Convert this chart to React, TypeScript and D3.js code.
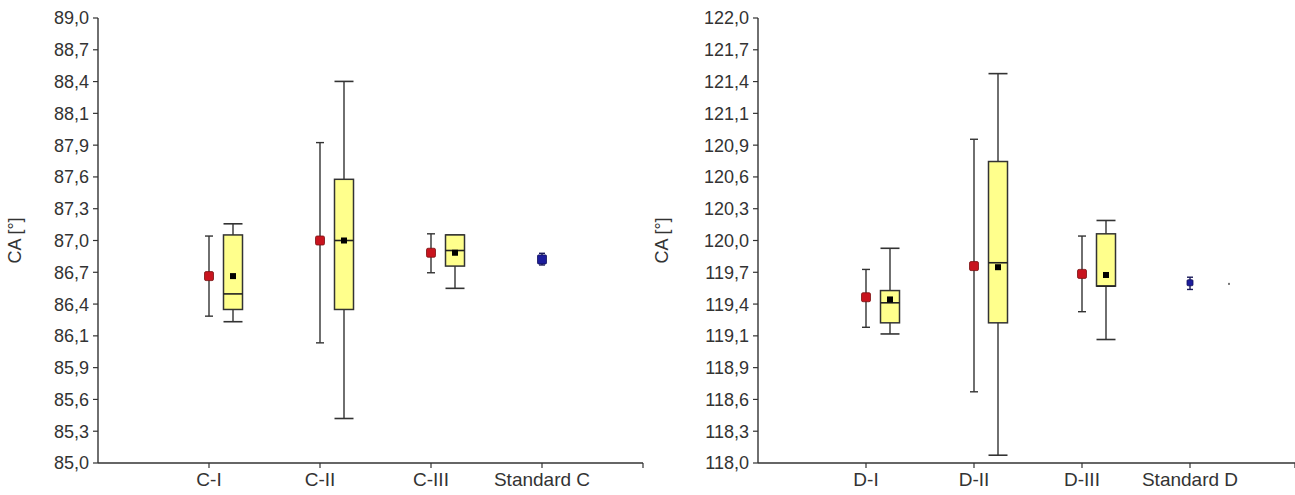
import React from "react";
import * as d3 from "d3";

// ---------- data ----------
const categoriesC = ["C-I", "C-II", "C-III", "Standard C"];
const categoriesD = ["D-I", "D-II", "D-III", "Standard D"];

const yTickLabelsC = ["85,0","85,3","85,6","85,9","86,1","86,4","86,7","87,0","87,3","87,6","87,9","88,1","88,4","88,7","89,0"];
const yTickLabelsD = ["118,0","118,3","118,6","118,9","119,1","119,4","119,7","120,0","120,3","120,6","120,9","121,1","121,4","121,7","122,0"];
const yDomainC = [85, 89];
const yDomainD = [118, 122];

// red mean +/- error bars (samples I..III)
const redMeanC = [86.68, 87.0, 86.89];
const redLowC = [86.32, 86.08, 86.71];
const redHighC = [87.04, 87.88, 87.06];

const redMeanD = [119.49, 119.77, 119.70];
const redLowD = [119.22, 118.64, 119.36];
const redHighD = [119.74, 120.91, 120.04];

// yellow box plots
const boxWhiskerLowC = [86.27, 85.40, 86.57];
const boxQ1C = [86.38, 86.38, 86.77];
const boxMedianC = [86.52, 87.0, 86.91];
const boxQ3C = [87.05, 87.55, 87.05];
const boxWhiskerHighC = [87.15, 88.43, 87.05];
const boxMeanC = [86.68, 87.0, 86.89];

const boxWhiskerLowD = [119.16, 118.07, 119.11];
const boxQ1D = [119.26, 119.26, 119.59];
const boxMedianD = [119.44, 119.80, 119.59];
const boxQ3D = [119.55, 120.71, 120.06];
const boxWhiskerHighD = [119.93, 121.50, 120.18];
const boxMeanD = [119.47, 119.76, 119.69];

// standards (blue)
const stdMeanC = 86.83, stdLowC = 86.78, stdHighC = 86.885;
const stdMeanD = 119.62, stdLowD = 119.56, stdHighD = 119.67;
const stdExtraD = 119.61;

const FONT = "'Liberation Sans', Arial, sans-serif";
const AX = "#333";

type PanelProps = {
  cats: string[];
  tickLabels: string[];
  yDomain: number[];
  redMean: number[]; redLow: number[]; redHigh: number[];
  wLow: number[]; q1: number[]; med: number[]; q3: number[]; wHigh: number[]; mean: number[];
  sMean: number; sLow: number; sHigh: number; sSize: number;
  extra?: number;
  xRange: [number, number]; xMax: number; labelX: number; axisEnd: number;
};

function Panel(p: PanelProps) {
  const top = 18, bottom = 463;
  const y = d3.scaleLinear().domain(p.yDomain).range([bottom, top]);
  const x = d3.scaleLinear().domain([0, p.xMax]).range(p.xRange);
  const n = p.tickLabels.length;
  const step = (p.yDomain[1] - p.yDomain[0]) / (n - 1);
  const x0 = p.xRange[0];
  const boxOff = 24, boxW = 19, redCap = 8;
  return (
    <g fontFamily={FONT}>
      {/* y axis */}
      <line x1={x0} x2={x0} y1={y(p.yDomain[1])} y2={y(p.yDomain[0])} stroke={AX} strokeWidth={1.4} />
      {p.tickLabels.map((t, i) => {
        const v = p.yDomain[0] + i * step;
        return (
          <g key={t}>
            <line x1={x0 - 5} x2={x0} y1={y(v)} y2={y(v)} stroke={AX} strokeWidth={1.2} />
            <text x={x0 - 9} y={y(v)} dy="0.36em" textAnchor="end" fontSize={18} fill="#333">{t}</text>
          </g>
        );
      })}
      <text transform={`translate(${p.labelX},${(top + bottom) / 2}) rotate(-90)`} textAnchor="middle" dy="0.36em" fontSize={18} fill="#333">CA [°]</text>
      {/* x axis */}
      <line x1={x0} x2={p.axisEnd} y1={bottom} y2={bottom} stroke={AX} strokeWidth={1.4} />
      <line x1={p.axisEnd} x2={p.axisEnd} y1={bottom} y2={bottom + 5} stroke={AX} strokeWidth={1.2} />
      {p.cats.map((c, i) => (
        <g key={c}>
          <line x1={x(i + 1)} x2={x(i + 1)} y1={bottom} y2={bottom + 5} stroke={AX} strokeWidth={1.2} />
          <text x={x(i + 1)} y={bottom + 23} textAnchor="middle" fontSize={19} fill="#333">{c}</text>
        </g>
      ))}
      {/* red error bars */}
      {p.redMean.map((m, i) => {
        const cx = x(i + 1);
        return (
          <g key={"r" + i}>
            <line x1={cx} x2={cx} y1={y(p.redHigh[i])} y2={y(p.redLow[i])} stroke="#333" strokeWidth={1.4} />
            <line x1={cx - redCap / 2} x2={cx + redCap / 2} y1={y(p.redHigh[i])} y2={y(p.redHigh[i])} stroke="#333" strokeWidth={1.4} />
            <line x1={cx - redCap / 2} x2={cx + redCap / 2} y1={y(p.redLow[i])} y2={y(p.redLow[i])} stroke="#333" strokeWidth={1.4} />
            <rect x={cx - 4.5} y={y(m) - 4.5} width={9} height={9} rx={1.5} fill="#c8141e" stroke="#7a1010" strokeWidth={0.8} />
          </g>
        );
      })}
      {/* boxes */}
      {p.q1.map((q, i) => {
        const cx = x(i + 1) + boxOff;
        return (
          <g key={"b" + i}>
            <line x1={cx} x2={cx} y1={y(p.wHigh[i])} y2={y(p.wLow[i])} stroke="#333" strokeWidth={1.4} />
            <line x1={cx - boxW / 2} x2={cx + boxW / 2} y1={y(p.wHigh[i])} y2={y(p.wHigh[i])} stroke="#333" strokeWidth={1.6} />
            <line x1={cx - boxW / 2} x2={cx + boxW / 2} y1={y(p.wLow[i])} y2={y(p.wLow[i])} stroke="#333" strokeWidth={1.6} />
            <rect x={cx - boxW / 2} y={y(p.q3[i])} width={boxW} height={y(q) - y(p.q3[i])} fill="#ffff8c" stroke="#333" strokeWidth={1.5} />
            <line x1={cx - boxW / 2} x2={cx + boxW / 2} y1={y(p.med[i])} y2={y(p.med[i])} stroke="#222" strokeWidth={1.6} />
            <rect x={cx - 3} y={y(p.mean[i]) - 3} width={6} height={6} fill="#000" />
          </g>
        );
      })}
      {/* standard */}
      {(() => {
        const cx = x(4);
        const s = p.sSize;
        return (
          <g>
            <line x1={cx} x2={cx} y1={y(p.sHigh)} y2={y(p.sLow)} stroke="#1a1a5a" strokeWidth={1.4} />
            <line x1={cx - 3} x2={cx + 3} y1={y(p.sHigh)} y2={y(p.sHigh)} stroke="#1a1a5a" strokeWidth={1.4} />
            <line x1={cx - 3} x2={cx + 3} y1={y(p.sLow)} y2={y(p.sLow)} stroke="#1a1a5a" strokeWidth={1.4} />
            <rect x={cx - s / 2} y={y(p.sMean) - s / 2} width={s} height={s} rx={1} fill="#1c1c9c" stroke="#10105a" strokeWidth={0.8} />
          </g>
        );
      })()}
      {p.extra !== undefined && (
        <rect x={x(4) + 38} y={y(p.extra) - 1} width={2} height={2} fill="#777" />
      )}
    </g>
  );
}

export default function App() {
  return (
    <svg width={1295} height={495} style={{ position: "absolute", left: 0, top: 0, background: "#fff" }}>
      <rect width={1295} height={495} fill="#fff" />
      <Panel cats={categoriesC} tickLabels={yTickLabelsC} yDomain={yDomainC}
        redMean={redMeanC} redLow={redLowC} redHigh={redHighC}
        wLow={boxWhiskerLowC} q1={boxQ1C} med={boxMedianC} q3={boxQ3C} wHigh={boxWhiskerHighC} mean={boxMeanC}
        sMean={stdMeanC} sLow={stdLowC} sHigh={stdHighC} sSize={9}
        xRange={[98, 653]} xMax={5} axisEnd={643} labelX={15} />
      <Panel cats={categoriesD} tickLabels={yTickLabelsD} yDomain={yDomainD}
        redMean={redMeanD} redLow={redLowD} redHigh={redHighD}
        wLow={boxWhiskerLowD} q1={boxQ1D} med={boxMedianD} q3={boxQ3D} wHigh={boxWhiskerHighD} mean={boxMeanD}
        sMean={stdMeanD} sLow={stdLowD} sHigh={stdHighD} sSize={6} extra={stdExtraD}
        xRange={[758, 1298]} xMax={5} axisEnd={1295} labelX={662} />
    </svg>
  );
}
